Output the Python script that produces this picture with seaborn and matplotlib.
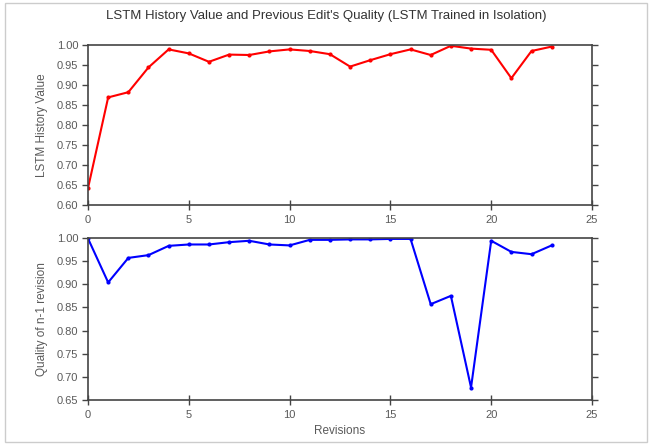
import matplotlib
matplotlib.use("Agg")
import matplotlib.pyplot as plt
import seaborn as sns
import pandas as pd
from matplotlib.ticker import FormatStrFormatter
from matplotlib.patches import Rectangle

revisions = list(range(24))
lstm_history = [0.642, 0.869, 0.882, 0.944, 0.989, 0.979, 0.958, 0.976, 0.975, 0.984,
                0.989, 0.985, 0.977, 0.946, 0.962, 0.977, 0.989, 0.975, 0.998, 0.991,
                0.988, 0.917, 0.985, 0.996]
prev_quality = [0.999, 0.904, 0.957, 0.963, 0.983, 0.986, 0.986, 0.991, 0.994, 0.986,
                0.984, 0.996, 0.996, 0.997, 0.997, 0.998, 0.998, 0.857, 0.875, 0.677,
                0.994, 0.970, 0.965, 0.984]

title = "LSTM History Value and Previous Edit's Quality (LSTM Trained in Isolation)"
ylabel_top = "LSTM History Value"
ylabel_bottom = "Quality of n-1 revision"
xlabel = "Revisions"

sns.set_theme(style="white")
plt.rcParams['font.family'] = ['Liberation Sans', 'DejaVu Sans']

df = pd.DataFrame({"rev": revisions, "hist": lstm_history, "qual": prev_quality})

fig = plt.figure(figsize=(6.53, 4.45), dpi=100)
fig.patch.set_facecolor("white")
fig.patches.append(Rectangle((5/653, 3/445), 642/653, 439/445, transform=fig.transFigure,
                             fill=False, edgecolor="#cccccc", linewidth=1.0))

ax1 = fig.add_axes([88/653, 1-205/445, 504/653, 160/445])
ax2 = fig.add_axes([88/653, 1-400/445, 504/653, 162/445])

text_color = "#5a5a5a"
spine_color = "#444444"

sns.lineplot(data=df, x="rev", y="hist", ax=ax1, color="#ff0000", marker="o",
             markersize=3, markeredgewidth=0, linewidth=1.5)
sns.lineplot(data=df, x="rev", y="qual", ax=ax2, color="#0000ff", marker="o",
             markersize=3, markeredgewidth=0, linewidth=1.5)

for ax, ylo, ylab in [(ax1, 0.6, ylabel_top), (ax2, 0.65, ylabel_bottom)]:
    ax.set_xlim(0, 25)
    ax.set_ylim(ylo, 1.0)
    ax.set_xticks([0, 5, 10, 15, 20, 25])
    n = int(round((1.0 - ylo) / 0.05))
    ax.set_yticks([round(ylo + 0.05 * i, 2) for i in range(n + 1)])
    ax.yaxis.set_major_formatter(FormatStrFormatter("%.2f"))
    ax.set_ylabel(ylab, fontsize=8.5, color=text_color, labelpad=6)
    ax.set_xlabel("")
    for s in ax.spines.values():
        s.set_color(spine_color)
        s.set_linewidth(1.2)
    ax.tick_params(axis="y", which="both", left=True, right=True, direction="out",
                   length=4, width=1, color=spine_color, labelsize=8, labelcolor=text_color, pad=3)
    ax.tick_params(axis="x", which="both", bottom=True, top=False, direction="inout",
                   length=7, width=1, color=spine_color, labelsize=8, labelcolor=text_color, pad=4)
    ax.grid(False)

ax2.set_xlabel(xlabel, fontsize=8.5, color=text_color, labelpad=3)
fig.suptitle(title, x=0.5, y=1-16/445, fontsize=9.5, color="#333333", va="center")

fig.savefig("out.png", dpi=100, facecolor="white")
